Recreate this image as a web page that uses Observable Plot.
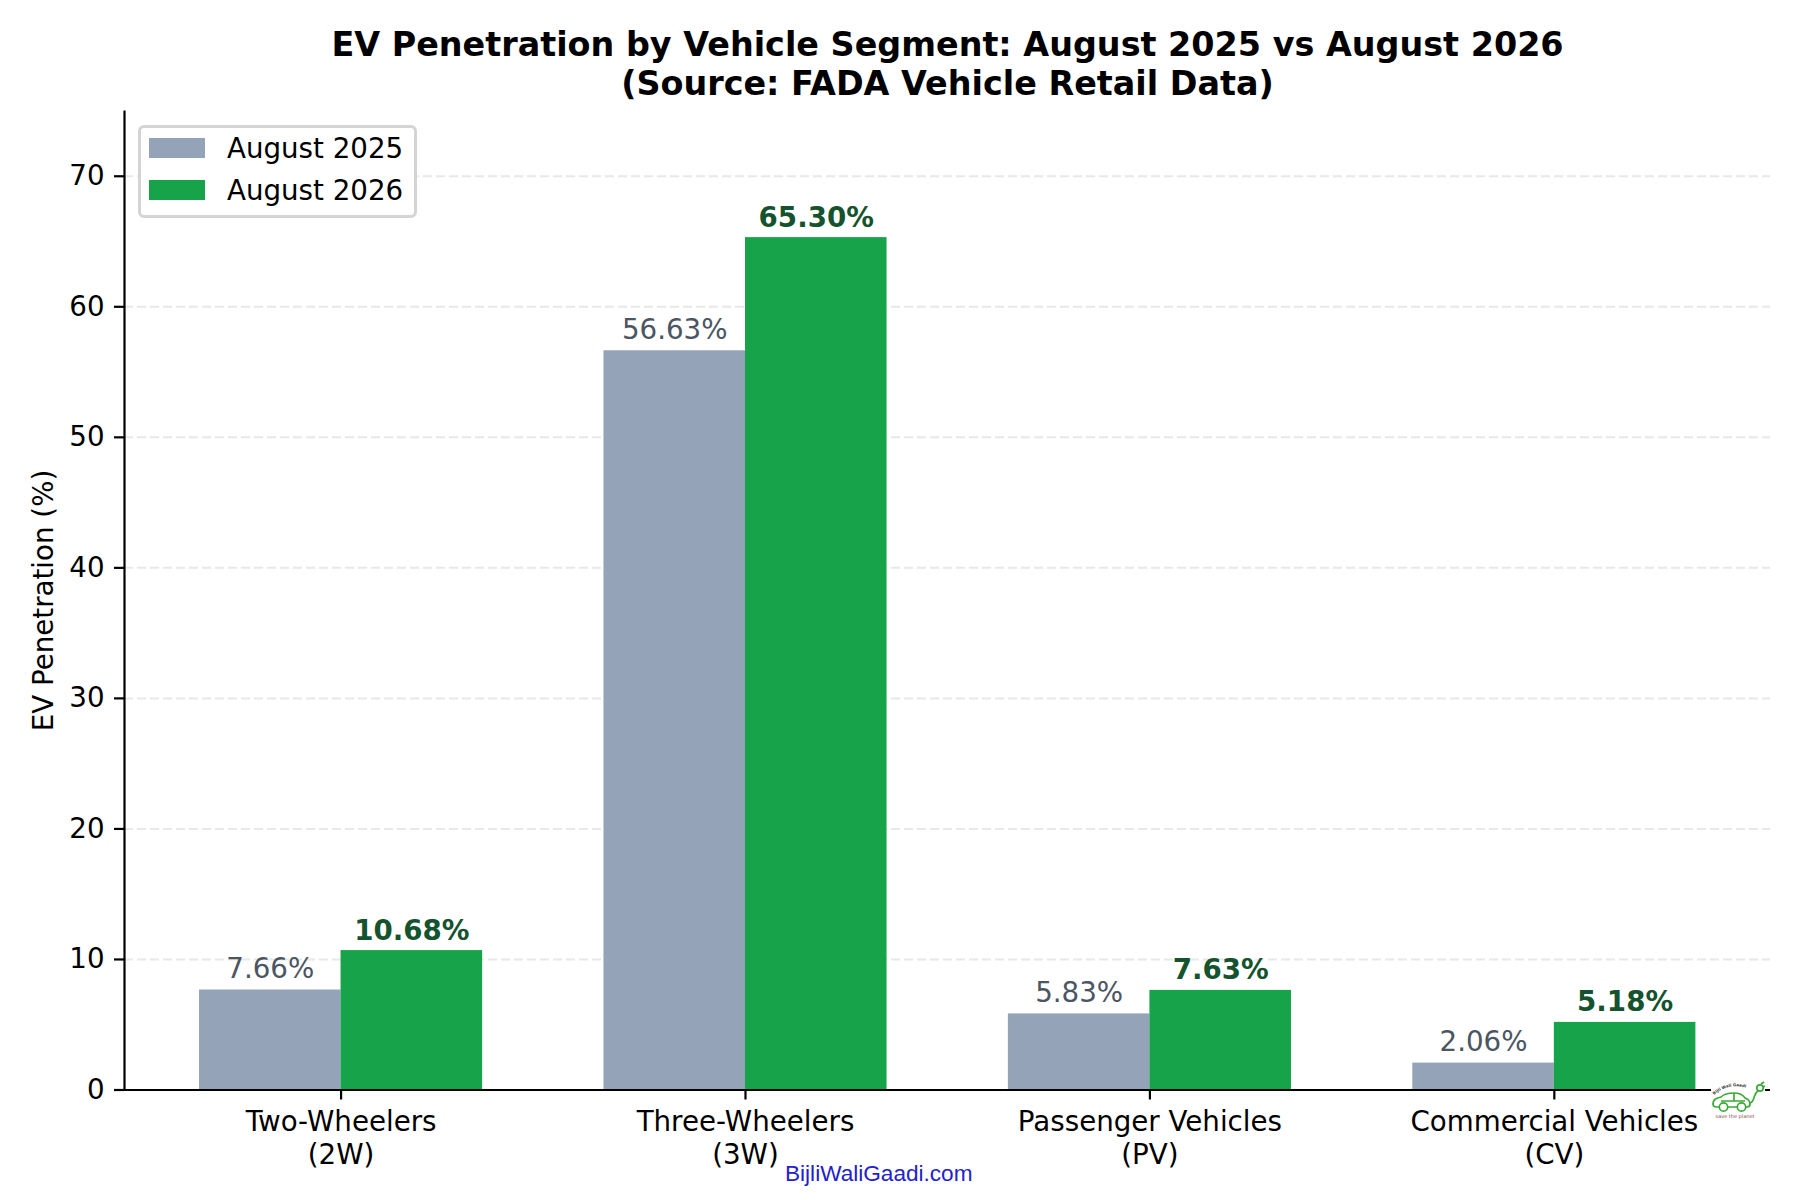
<!DOCTYPE html>
<html>
<head>
<meta charset="utf-8">
<script src="https://cdn.jsdelivr.net/npm/d3@7"></script>
<script src="https://cdn.jsdelivr.net/npm/@observablehq/plot@0.6"></script>
<style>
  html, body { margin: 0; padding: 0; background: #fff; }
  #wrap { position: relative; width: 1800px; height: 1200px; font-family: "DejaVu Sans", sans-serif; }
  #legend { position: absolute; left: 138px; top: 124.5px; width: 279px; height: 93px; box-sizing: border-box;
    border: 3px solid #d4d4d4; border-radius: 6px; background: rgba(255,255,255,0.92); font-size: 27.7px; color: #000; }
  .row { position: absolute; left: 8px; height: 20px; }
  .sw { position: absolute; left: 0; top: 0; width: 56px; height: 20px; }
  .lb { position: absolute; left: 78px; top: -6px; white-space: nowrap; line-height: 34px; }
  #mark { position: absolute; left: 785px; top: 1161px; font: 22.6px "Liberation Sans", sans-serif; color: #2222cc; white-space: nowrap; }
  #logo { position: absolute; left: 1711px; top: 1080px; width: 54px; height: 42px; background: #fff; }
</style>
</head>
<body>
<div id="wrap"></div>
<script>
const categories = ["Two-Wheelers\n(2W)", "Three-Wheelers\n(3W)", "Passenger Vehicles\n(PV)", "Commercial Vehicles\n(CV)"];
const seriesNames = ["August 2025", "August 2026"];
const aug2025 = [7.66, 56.63, 5.83, 2.06];
const aug2026 = [10.68, 65.30, 7.63, 5.18];
const yTicks = [0, 10, 20, 30, 40, 50, 60, 70];
const gridTicks = [10, 20, 30, 40, 50, 60, 70];
const colors = ["#94a3b8", "#16a34a"];
const labelColors = ["#4b5563", "#14532d"];
const titleText = "EV Penetration by Vehicle Segment: August 2025 vs August 2026\n(Source: FADA Vehicle Retail Data)";

const barWidth = 0.35;
const xDomain = [-0.5355, 3.5345];
const rows = categories.flatMap((c, i) => [
  {i, x1: i - barWidth, x2: i, v: aug2025[i], s: 0},
  {i, x1: i, x2: i + barWidth, v: aug2026[i], s: 1}
]);
const tickFont = 27.7;

const chart = Plot.plot({
  width: 1800, height: 1200,
  marginLeft: 124, marginRight: 30, marginTop: 110.5, marginBottom: 110.5,
  style: {fontFamily: "DejaVu Sans, sans-serif", background: "#fff", color: "#000"},
  x: {domain: xDomain, axis: null},
  y: {domain: [0, 75], axis: null},
  marks: [
    Plot.ruleY(gridTicks, {stroke: "#e8e8e8", strokeWidth: 2, strokeDasharray: "9,4"}),
    Plot.rectY(rows, {x1: "x1", x2: "x2", y1: 0, y2: "v", fill: d => colors[d.s]}),
    Plot.text(rows.filter(d => d.s === 0), {
      x: d => (d.x1 + d.x2) / 2, y: "v", text: d => d.v.toFixed(2) + "%",
      lineAnchor: "bottom", dy: -12, fontSize: tickFont, fill: labelColors[0]
    }),
    Plot.text(rows.filter(d => d.s === 1), {
      x: d => (d.x1 + d.x2) / 2, y: "v", text: d => d.v.toFixed(2) + "%",
      lineAnchor: "bottom", dy: -11, fontSize: tickFont, fontWeight: "bold", fill: labelColors[1]
    }),
    Plot.axisY(yTicks, {
      anchor: "left", tickSize: 10, tickPadding: 10, strokeWidth: 2.2, fontSize: tickFont,
      label: "EV Penetration (%)", labelAnchor: "center", labelArrow: "none", labelOffset: 91
    }),
    Plot.axisX([0, 1, 2, 3], {
      anchor: "bottom", tickSize: 10, tickPadding: 7, strokeWidth: 2.2, fontSize: tickFont,
      tickFormat: i => categories[i], label: null, lineHeight: 1.2
    }),
    Plot.ruleX([xDomain[0]], {strokeWidth: 2.2, stroke: "#000"}),
    Plot.ruleY([0], {strokeWidth: 2.2, stroke: "#000"}),
    Plot.text([titleText], {
      frameAnchor: "top", dy: -82, lineAnchor: "top", fontSize: 33.4, fontWeight: "bold", fill: "#000", lineHeight: 1.15
    })
  ]
});

const wrap = document.getElementById("wrap");
wrap.appendChild(chart);

const legend = document.createElement("div");
legend.id = "legend";
seriesNames.forEach((name, k) => {
  const r = document.createElement("div");
  r.className = "row";
  r.style.top = (k === 0 ? 10 : 52) + "px";
  const sw = document.createElement("div");
  sw.className = "sw";
  sw.style.background = colors[k];
  const lb = document.createElement("div");
  lb.className = "lb";
  lb.textContent = name;
  r.append(sw, lb);
  legend.appendChild(r);
});
wrap.appendChild(legend);

const mark = document.createElement("div");
mark.id = "mark";
mark.textContent = "BijliWaliGaadi.com";
wrap.appendChild(mark);

const logo = document.createElement("div");
logo.id = "logo";
logo.innerHTML = `<svg width="54" height="42" viewBox="0 0 54 42" fill="none" stroke="#3aaa35" stroke-width="1.7">
<path d="M2 24c0-5 4-6 8-7 3-3 7-4 13-4 6 0 9 2 11 5 3 1 5 3 5 6 0 2-1 3-3 3H6c-3 0-4-1-4-3z"/>
<path d="M10 21h24M23 13v8"/>
<circle cx="12.5" cy="27" r="4.2" fill="#fff"/><circle cx="30.5" cy="27" r="4.2" fill="#fff"/>
<path d="M39 23c5-1 3-9 8-12"/><circle cx="49" cy="8" r="3.2"/><path d="M50 4l3-2M52 7l2-1"/>
<defs><path id="arc" d="M3 15Q22 -1 44 12"/></defs>
<text font-size="4" font-weight="bold" fill="#333" stroke="none" font-family="DejaVu Sans"><textPath href="#arc">Bijli Wali Gaadi</textPath></text>
<text x="24" y="38" text-anchor="middle" font-size="5" fill="#8a4a4a" stroke="none" font-family="DejaVu Sans">save the planet</text>
</svg>`;
wrap.appendChild(logo);
</script>
</body>
</html>
